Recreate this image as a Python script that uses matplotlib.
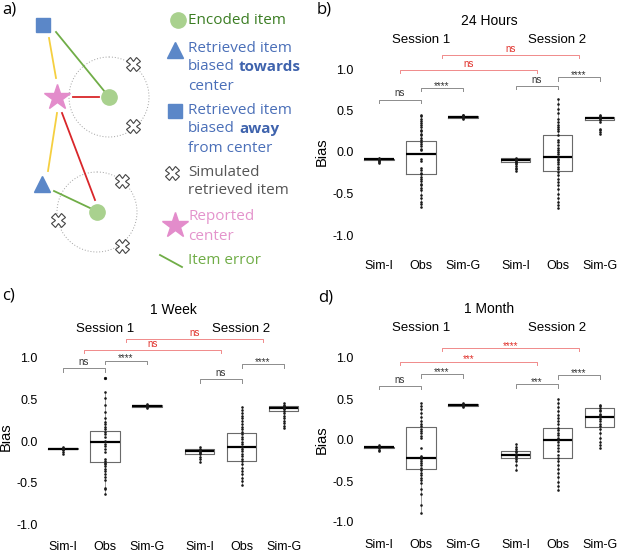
import matplotlib.pyplot as plt
from matplotlib.patches import Circle

plt.rcParams['font.family'] = ['Liberation Sans', 'DejaVu Sans']

W, H = 617, 552

# ---- data ----
labels = ['Sim-I', 'Obs', 'Sim-G', 'Sim-I', 'Obs', 'Sim-G']
positions = [1, 2, 3, 4.25, 5.25, 6.25]

# box stats: (q1, median, q3, whisker low, whisker high)
b_stats = [(-0.10, -0.09, -0.08, -0.13, -0.06), (-0.26, -0.03, 0.13, -0.66, 0.45), (0.41, 0.42, 0.43, 0.40, 0.45),
           (-0.125, -0.10, -0.075, -0.23, -0.07), (-0.23, -0.065, 0.20, -0.67, 0.64), (0.39, 0.41, 0.42, 0.36, 0.45)]
c_stats = [(-0.10, -0.09, -0.08, -0.15, -0.07), (-0.25, -0.01, 0.12, -0.64, 0.59), (0.41, 0.42, 0.43, 0.40, 0.44),
           (-0.15, -0.12, -0.10, -0.25, -0.07), (-0.24, -0.07, 0.09, -0.53, 0.41), (0.36, 0.40, 0.42, 0.16, 0.45)]
d_stats = [(-0.10, -0.09, -0.08, -0.14, -0.06), (-0.35, -0.22, 0.16, -0.89, 0.45), (0.42, 0.43, 0.44, 0.40, 0.45),
           (-0.22, -0.18, -0.135, -0.37, -0.05), (-0.22, 0.0, 0.15, -0.61, 0.50), (0.16, 0.28, 0.39, -0.10, 0.43)]

c_outliers = [[], [0.75], [], [], [], []]

b_simi1 = [-0.13, -0.12, -0.11, -0.10, -0.10, -0.09, -0.08, -0.07]
b_obs1 = [0.45, 0.43, 0.40, 0.37, 0.35, 0.32, 0.30, 0.27, 0.25, 0.22, 0.20, 0.17, 0.15, 0.12, 0.10, 0.07,
          0.04, 0.02, -0.08, -0.11, -0.19, -0.22, -0.25, -0.27, -0.30, -0.33, -0.35, -0.38, -0.40, -0.43,
          -0.46, -0.52, -0.56, -0.60, -0.63, -0.66]
b_simg1 = [0.40, 0.41, 0.42, 0.43, 0.44, 0.45]
b_simi2 = [-0.07, -0.08, -0.09, -0.10, -0.11, -0.12, -0.13, -0.15, -0.17, -0.19, -0.21, -0.23]
b_obs2 = [0.64, 0.58, 0.52, 0.47, 0.40, 0.36, 0.33, 0.30, 0.28, 0.25, 0.20, 0.15, 0.12, 0.08, 0.05, 0.02,
          0.0, -0.03, -0.06, -0.08, -0.10, -0.12, -0.15, -0.18, -0.21, -0.24, -0.28, -0.32, -0.36, -0.40,
          -0.45, -0.50, -0.55, -0.60, -0.64, -0.67]
b_simg2 = [0.36, 0.38, 0.40, 0.41, 0.42, 0.43, 0.45, 0.22, 0.24, 0.26, 0.28]

c_simi1 = [-0.15, -0.13, -0.11, -0.10, -0.09, -0.08, -0.07]
c_obs1 = [0.59, 0.52, 0.43, 0.35, 0.28, 0.23, 0.20, 0.17, 0.14, 0.11, 0.08, 0.05, 0.0, -0.03, -0.06,
          -0.10, -0.13, -0.22, -0.24, -0.26, -0.28, -0.30, -0.33, -0.36, -0.39, -0.43, -0.47, -0.56,
          -0.58, -0.64]
c_simg1 = [0.40, 0.41, 0.42, 0.43, 0.44]
c_simi2 = [-0.07, -0.09, -0.11, -0.12, -0.13, -0.14, -0.16, -0.19, -0.22, -0.25]
c_obs2 = [0.41, 0.37, 0.34, 0.30, 0.27, 0.24, 0.20, 0.17, 0.14, 0.11, 0.08, 0.05, 0.02, -0.01, -0.04,
          -0.07, -0.09, -0.12, -0.15, -0.18, -0.21, -0.24, -0.28, -0.32, -0.36, -0.40, -0.44, -0.48, -0.53]
c_simg2 = [0.45, 0.43, 0.42, 0.41, 0.40, 0.39, 0.38, 0.36, 0.33, 0.30, 0.27, 0.24, 0.21, 0.18, 0.16]

d_simi1 = [-0.14, -0.12, -0.10, -0.09, -0.08, -0.06]
d_obs1 = [0.45, 0.42, 0.38, 0.33, 0.28, 0.23, 0.20, 0.17, 0.14, 0.11, 0.08, 0.05, 0.02, -0.10, -0.19,
          -0.21, -0.23, -0.25, -0.28, -0.31, -0.34, -0.37, -0.40, -0.43, -0.46, -0.49, -0.52, -0.60,
          -0.66, -0.79, -0.89]
d_simg1 = [0.40, 0.42, 0.43, 0.44, 0.45]
d_simi2 = [-0.05, -0.08, -0.11, -0.13, -0.15, -0.17, -0.19, -0.21, -0.23, -0.26, -0.30, -0.37]
d_obs2 = [0.50, 0.45, 0.40, 0.35, 0.31, 0.27, 0.23, 0.19, 0.15, 0.12, 0.09, 0.06, 0.03, 0.0, -0.03,
          -0.06, -0.10, -0.14, -0.18, -0.22, -0.26, -0.30, -0.35, -0.40, -0.45, -0.51, -0.56, -0.61]
d_simg2 = [0.43, 0.41, 0.39, 0.37, 0.35, 0.32, 0.30, 0.28, 0.26, 0.23, 0.20, 0.17, 0.13, 0.08, 0.03,
           -0.02, -0.06, -0.10]

# significance brackets: (x1, x2, y, label, red?)
b_brackets = [(1, 2, 0.63, 'ns', False), (2, 3, 0.77, '****', False), (4.25, 5.25, 0.795, 'ns', False),
              (5.25, 6.25, 0.90, '****', False), (1.5, 4.75, 0.99, 'ns', True), (2.5, 5.75, 1.17, 'ns', True)]
c_brackets = [(1, 2, 0.87, 'ns', False), (2, 3, 0.96, '****', False), (4.25, 5.25, 0.74, 'ns', False),
              (5.25, 6.25, 0.92, '****', False), (1.5, 4.75, 1.09, 'ns', True), (2.5, 5.75, 1.22, 'ns', True)]
d_brackets = [(1, 2, 0.66, 'ns', False), (2, 3, 0.80, '****', False), (4.25, 5.25, 0.68, '***', False),
              (5.25, 6.25, 0.79, '****', False), (1.5, 4.75, 0.95, '***', True), (2.5, 5.75, 1.12, '****', True)]

fig = plt.figure(figsize=(W / 100, H / 100), dpi=100)


def panel_axes(x1px, y0px, uy, ylim):
    # x1px: pixel of position 1, y0px: pixel of value 0, 42 px per position
    xlim = (0.5, 6.65)
    left = x1px + 42 * (xlim[0] - 1)
    right = x1px + 42 * (xlim[1] - 1)
    top = y0px - uy * ylim[1]
    bottom = y0px - uy * ylim[0]
    ax = fig.add_axes([left / W, 1 - bottom / H, (right - left) / W, (bottom - top) / H])
    ax.set_xlim(xlim)
    ax.set_ylim(ylim)
    return ax


def draw_panel(ax, stats, points, brackets, title, ty, sy, outliers=None):
    boxes = []
    for i, (q1, med, q3, lo, hi) in enumerate(stats):
        fl = outliers[i] if outliers else []
        boxes.append(dict(q1=q1, med=med, q3=q3, whislo=lo, whishi=hi, fliers=fl))
    ax.bxp(boxes, positions=positions, widths=0.7, showcaps=False,
           boxprops=dict(color='#6a6a6a', lw=0.8),
           medianprops=dict(color='black', lw=1.6),
           whiskerprops=dict(color='#8a8a8a', lw=0.6),
           flierprops=dict(marker='o', markersize=2.0, markerfacecolor='black',
                           markeredgecolor='black', markeredgewidth=0.3))
    for p, vals in zip(positions, points):
        ax.scatter([p] * len(vals), vals, s=3.5, color='#1a1a1a', lw=0, zorder=3)
    for x1, x2, y, lab, red in brackets:
        lc = '#f08a8a' if red else '#8c8c8c'
        tc = '#e0302a' if red else '#333333'
        ax.plot([x1, x1, x2, x2], [y - 0.04, y, y, y - 0.04], color=lc, lw=0.7, clip_on=False)
        off = 0.015 if lab == 'ns' else -0.03
        ax.text((x1 + x2) / 2, y + off, lab, ha='center', va='bottom', fontsize=7, color=tc)
    ax.text((positions[1] + positions[4]) / 2, ty, title, ha='center', va='center', fontsize=10)
    ax.text(positions[1], sy, 'Session 1', ha='center', va='center', fontsize=9.5)
    ax.text(positions[4], sy, 'Session 2', ha='center', va='center', fontsize=9.5)
    ax.set_xticks(positions)
    ax.set_xticklabels(labels)
    ax.set_yticks([-1.0, -0.5, 0.0, 0.5, 1.0])
    ax.set_yticklabels(['-1.0', '-0.5', '0.0', '0.5', '1.0'])
    ax.tick_params(length=0, labelsize=9, pad=3)
    for s in ax.spines.values():
        s.set_visible(False)


ax_b = panel_axes(379, 152, 83, (-1.25, 1.35))
draw_panel(ax_b, b_stats, [b_simi1, b_obs1, b_simg1, b_simi2, b_obs2, b_simg2], b_brackets,
           '24 Hours', 1.58, 1.35)
ax_c = panel_axes(63, 441, 83.5, (-1.15, 1.4))
draw_panel(ax_c, c_stats, [c_simi1, c_obs1, c_simg1, c_simi2, c_obs2, c_simg2], c_brackets,
           '1 Week', 1.57, 1.34, outliers=c_outliers)
ax_d = panel_axes(379, 440, 82, (-1.16, 1.4))
draw_panel(ax_d, d_stats, [d_simi1, d_obs1, d_simg1, d_simi2, d_obs2, d_simg2], d_brackets,
           '1 Month', 1.60, 1.36)

# y labels and panel letters (pixel positions)
for x, y in [(322, 152), (6, 437), (322, 440)]:
    fig.text(x / W, 1 - y / H, 'Bias', rotation=90, ha='center', va='center', fontsize=10.5)
for lab, x, y in [('a)', 2, 10), ('b)', 317, 9), ('c)', 2, 295), ('d)', 318, 298)]:
    fig.text(x / W, 1 - y / H, lab, ha='left', va='center', fontsize=12, family='Open Sans')

# ---- panel a: schematic ----
ax_a = fig.add_axes([0, 1 - 275 / H, 305 / W, 275 / H])
ax_a.set_xlim(0, 305)
ax_a.set_ylim(275, 0)
ax_a.axis('off')

green_fill = '#a9d18e'
blue = '#5b87c8'
pink = '#e38ccb'
encoded = [(109, 97), (97, 212)]
sim_items = [(133, 64), (133, 126), (122, 181), (58, 220), (122, 246)]
square_pt = (43, 25)
triangle_pt = (42, 184)
star_pt = (57, 97)
error_lines = [((56, 32), (105, 92), '#70ad47'), ((49, 38), (56, 78), '#f5cf40'),
               ((73, 97), (99, 97), '#d9262a'), ((57, 113), (48, 171), '#f5cf40'),
               ((62, 113), (95, 200), '#d9262a'), ((54, 191), (90, 208), '#70ad47')]

for cx, cy in encoded:
    ax_a.add_patch(Circle((cx, cy), 40, fill=False, ls=(0, (1, 2)), lw=0.7, color='#a0a0a0'))
for (x1, y1), (x2, y2), col in error_lines:
    ax_a.plot([x1, x2], [y1, y2], color=col, lw=1.3)
ax_a.plot(*zip(*encoded), 'o', ms=11, color=green_fill, ls='none')
ax_a.plot(*zip(*sim_items), 'X', ms=10, mfc='white', mec='#444444', mew=0.8, ls='none')
ax_a.plot(*square_pt, 's', ms=10, color=blue)
ax_a.plot(*triangle_pt, '^', ms=11, color=blue)
ax_a.plot(*star_pt, '*', ms=19, color=pink)

# legend
ax_a.plot(178, 20, 'o', ms=11, color=green_fill)
ax_a.plot(175, 50, '^', ms=11, color=blue)
ax_a.plot(175, 111, 's', ms=10, color=blue)
ax_a.plot(172, 173, 'X', ms=10, mfc='white', mec='#444444', mew=0.8)
ax_a.plot(175, 225, '*', ms=19, color=pink)
ax_a.plot([160, 182], [255, 267], color='#70ad47', lw=1.3)

txt = dict(fontsize=11, family='Open Sans', va='center', ha='left')
ax_a.text(188, 20, 'Encoded item', color='#3b7d23', **txt)
ax_a.text(188, 48, 'Retrieved item', color='#4a6fb8', **txt)
ax_a.text(188, 67, 'biased', color='#4a6fb8', **txt)
ax_a.text(239, 67, 'towards', color='#3f63ad', fontweight='bold', **txt)
ax_a.text(188, 86, 'center', color='#4a6fb8', **txt)
ax_a.text(188, 110, 'Retrieved item', color='#4a6fb8', **txt)
ax_a.text(188, 129, 'biased', color='#4a6fb8', **txt)
ax_a.text(239, 129, 'away', color='#3f63ad', fontweight='bold', **txt)
ax_a.text(188, 148, 'from center', color='#4a6fb8', **txt)
ax_a.text(188, 172, 'Simulated', color='#555555', **txt)
ax_a.text(188, 191, 'retrieved item', color='#555555', **txt)
ax_a.text(188, 217, 'Reported', color='#e494cc', **txt)
ax_a.text(188, 236, 'center', color='#e494cc', **txt)
ax_a.text(188, 260, 'Item error', color='#70ad47', **txt)

fig.savefig('out.png', dpi=100)
